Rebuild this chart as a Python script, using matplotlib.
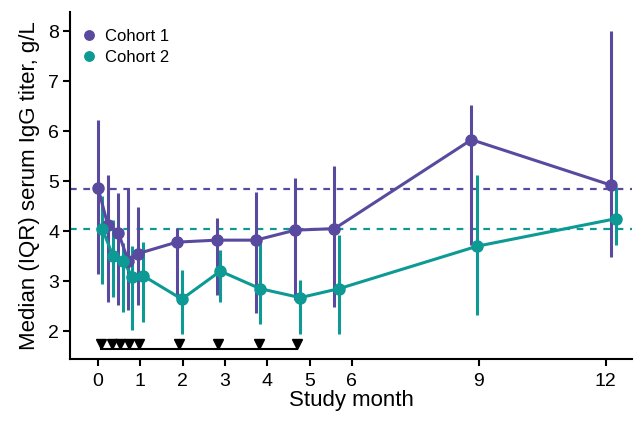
import numpy as np
import matplotlib
matplotlib.use("Agg")
import matplotlib.pyplot as plt

plt.rcParams['font.family'] = ['Liberation Sans', 'DejaVu Sans']

# cohort 1
c1_month = [0.0, 0.23, 0.48, 0.71, 0.94, 1.86, 2.8, 3.73, 4.66, 5.59, 8.83, 12.13]
c1_median = [4.86, 4.12, 3.97, 3.41, 3.55, 3.78, 3.82, 3.82, 4.02, 4.05, 5.83, 4.92]
c1_q1 = [3.14, 2.58, 2.52, 2.42, 2.52, 2.66, 2.72, 2.37, 2.62, 2.49, 3.72, 3.49]
c1_q3 = [6.22, 5.12, 4.77, 4.84, 4.49, 4.06, 4.26, 4.79, 5.07, 5.31, 6.52, 8.0]

# cohort 2
c2_month = [0.1, 0.35, 0.58, 0.81, 1.06, 1.98, 2.89, 3.83, 4.78, 5.70, 8.97, 12.25]
c2_median = [4.04, 3.51, 3.41, 3.09, 3.11, 2.64, 3.20, 2.85, 2.67, 2.85, 3.70, 4.25]
c2_q1 = [2.95, 2.69, 2.39, 2.02, 2.19, 1.94, 2.59, 2.15, 1.95, 1.94, 2.32, 3.72]
c2_q3 = [4.70, 4.22, 3.76, 3.70, 3.79, 3.22, 3.62, 3.82, 3.02, 3.92, 5.12, 4.89]

c1_ref = 4.85
c2_ref = 4.05

dose_month = [0.07, 0.32, 0.52, 0.73, 0.97, 1.91, 2.84, 3.81, 4.71]

xticks = [0, 1, 2, 3, 4, 5, 6, 9, 12]
yticks = [2, 3, 4, 5, 6, 7, 8]

purple = '#5a4a9f'
teal = '#0d9a94'

fig = plt.figure(figsize=(6.44, 4.21), dpi=100)
ax = fig.add_axes([0.109, 0.147, 0.872, 0.824])

for m, med, lo, hi, col, lab in [
        (c1_month, c1_median, c1_q1, c1_q3, purple, 'Cohort 1'),
        (c2_month, c2_median, c2_q1, c2_q3, teal, 'Cohort 2')]:
    m = np.array(m)
    med = np.array(med)
    yerr = [med - np.array(lo), np.array(hi) - med]
    ax.errorbar(m, med, yerr=yerr, fmt='none', ecolor=col, elinewidth=2.2, capsize=0, zorder=2)
    ax.plot(m, med, '-', color=col, lw=2.2, zorder=3)
    ax.plot(m, med, 'o', color=col, ms=8, zorder=4, label=lab)

ax.axhline(c1_ref, color=purple, ls=(0, (3, 3)), lw=1.6, zorder=1)
ax.axhline(c2_ref, color=teal, ls=(0, (3, 3)), lw=1.6, zorder=1)

# dosing markers
ax.plot([dose_month[0], dose_month[-1]], [1.64, 1.64], color='black', lw=1.5, zorder=3)
ax.plot(dose_month, [1.75] * len(dose_month), 'v', color='black', ms=7.5, zorder=4)

ax.set_xlim(-0.66, 12.62)
ax.set_ylim(1.44, 8.38)
ax.set_xticks(xticks)
ax.set_yticks(yticks)
ax.tick_params(labelsize=14, width=1.5, length=5)
ax.tick_params(axis='x', pad=5)
ax.tick_params(axis='y', pad=3)
for s in ['top', 'right']:
    ax.spines[s].set_visible(False)
for s in ['left', 'bottom']:
    ax.spines[s].set_linewidth(1.5)

ax.set_xlabel('Study month', fontsize=16, labelpad=0)
ax.set_ylabel('Median (IQR) serum IgG titer, g/L', fontsize=16, labelpad=6)

h, l = ax.get_legend_handles_labels()
ax.legend(h[-2:], l[-2:], loc='upper left', bbox_to_anchor=(-0.011, 0.996),
          frameon=False, fontsize=12,
          handletextpad=0.35, markerscale=0.85, borderaxespad=0.5,
          handlelength=1.2, labelspacing=0.4)

fig.savefig('out.png', dpi=100)
